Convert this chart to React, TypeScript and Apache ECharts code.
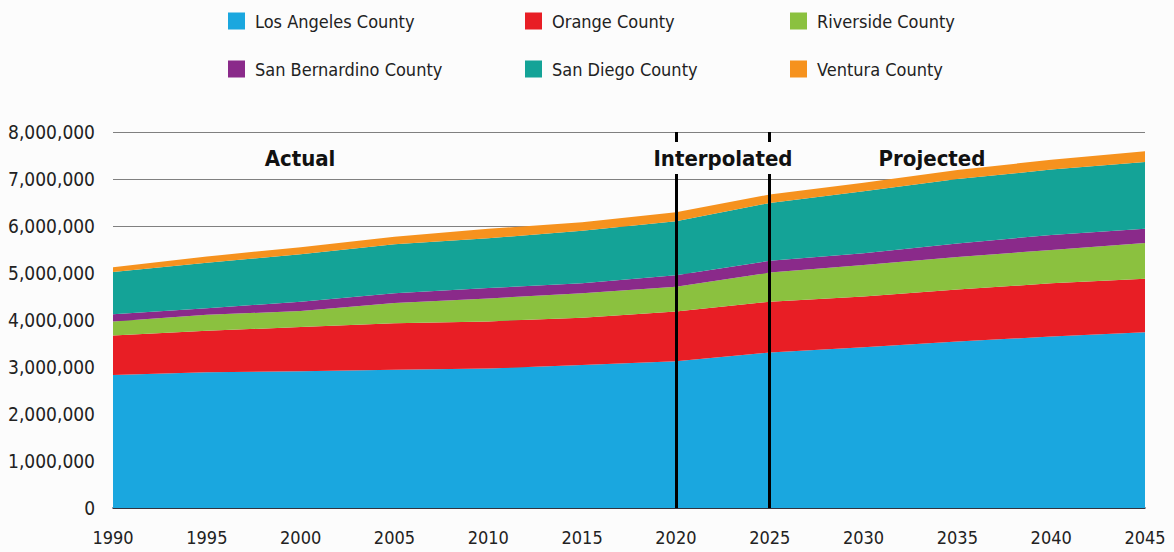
import React, { useEffect, useRef } from "react";
import * as echarts from "echarts";

const years = ["1990", "1995", "2000", "2005", "2010", "2015", "2020", "2025", "2030", "2035", "2040", "2045"];
const losAngeles = [2830000, 2890000, 2910000, 2940000, 2970000, 3040000, 3120000, 3310000, 3420000, 3540000, 3650000, 3740000];
const orange = [840000, 880000, 940000, 990000, 1000000, 1010000, 1060000, 1080000, 1080000, 1110000, 1130000, 1140000];
const riverside = [300000, 340000, 340000, 430000, 490000, 520000, 530000, 620000, 670000, 690000, 710000, 760000];
const sanBernardino = [150000, 140000, 200000, 210000, 220000, 210000, 240000, 250000, 250000, 290000, 320000, 300000];
const sanDiego = [900000, 970000, 1010000, 1040000, 1060000, 1120000, 1150000, 1230000, 1320000, 1370000, 1390000, 1420000];
const ventura = [100000, 130000, 150000, 160000, 200000, 180000, 190000, 180000, 180000, 190000, 210000, 230000];

const seriesNames = [
  "Los Angeles County",
  "Orange County",
  "Riverside County",
  "San Bernardino County",
  "San Diego County",
  "Ventura County",
];
const seriesValues = [losAngeles, orange, riverside, sanBernardino, sanDiego, ventura];
const seriesColors = ["#1aa7df", "#e81e25", "#8bc13f", "#8a2a8a", "#14a397", "#f6921e"];
const periodDividers = ["2020", "2025"];
const periodLabels = [
  { text: "Actual", x: 300 },
  { text: "Interpolated", x: 723 },
  { text: "Projected", x: 932 },
];

const FONT = "'DejaVu Sans Condensed','Liberation Sans',sans-serif";

export default function App() {
  const ref = useRef<HTMLDivElement>(null);
  useEffect(() => {
    if (!ref.current) return;
    const chart = echarts.init(ref.current, undefined, { renderer: "svg" });
    const series = seriesNames.map((name, i) => {
      const s: any = {
        name,
        type: "line",
        stack: "total",
        data: seriesValues[i],
        showSymbol: false,
        symbol: "none",
        lineStyle: { width: 0, color: seriesColors[i] },
        itemStyle: { color: seriesColors[i] },
        areaStyle: { color: seriesColors[i], opacity: 1 },
        emphasis: { disabled: true },
      };
      if (i === 5) {
        s.markLine = {
          silent: true,
          symbol: "none",
          label: { show: false },
          lineStyle: { color: "#000", width: 3, type: "solid" },
          data: periodDividers.map((v) => ({ xAxis: v })),
        };
      }
      return s;
    });
    const legendCols = [228, 525, 790];
    const legends = legendCols.map((left, c) => ({
      orient: "vertical",
      left,
      top: 9,
      padding: 0,
      itemWidth: 17,
      itemHeight: 17,
      itemGap: 24,
      icon: "rect",
      selectedMode: false,
      data: [seriesNames[c], seriesNames[c + 3]],
      textStyle: {
        fontFamily: FONT,
        fontSize: 18,
        color: "#222",
        lineHeight: 24,
        padding: [0, 0, 0, 5],
      },
    }));
    chart.setOption({
      animation: false,
      backgroundColor: "#fcfcfc",
      legend: legends,
      grid: { left: 113, right: 29, top: 132, bottom: 44, containLabel: false },
      xAxis: {
        type: "category",
        data: years,
        boundaryGap: false,
        splitLine: { show: false },
        axisTick: { show: false },
        axisLine: { show: true, lineStyle: { color: "#1a1a2a", width: 1.5 } },
        axisLabel: {
          fontFamily: FONT,
          fontSize: 18,
          color: "#222",
          margin: 20,
          interval: 0,
        },
      },
      yAxis: {
        type: "value",
        min: 0,
        max: 8000000,
        interval: 1000000,
        axisLine: { show: false },
        axisTick: { show: false },
        splitLine: { show: true, lineStyle: { color: "#808080", width: 1 } },
        axisLabel: {
          fontFamily: FONT,
          fontSize: 19,
          color: "#222",
          margin: 18,
          formatter: (v: number) => v.toLocaleString("en-US"),
        },
      },
      series,
      graphic: periodLabels.map((p) => ({
        type: "text",
        x: p.x,
        y: 158,
        z: 100,
        style: {
          text: p.text,
          fontFamily: FONT,
          fontSize: 22,
          fontWeight: "bold",
          fill: "#111",
          align: "center",
          verticalAlign: "middle",
          backgroundColor: p.text === "Interpolated" ? "#fcfcfc" : undefined,
          padding: [5, 2, 5, 2],
        },
      })),
    });
    return () => chart.dispose();
  }, []);
  return (
    <div
      ref={ref}
      style={{ position: "absolute", left: 0, top: 0, width: 1174, height: 552 }}
    />
  );
}
